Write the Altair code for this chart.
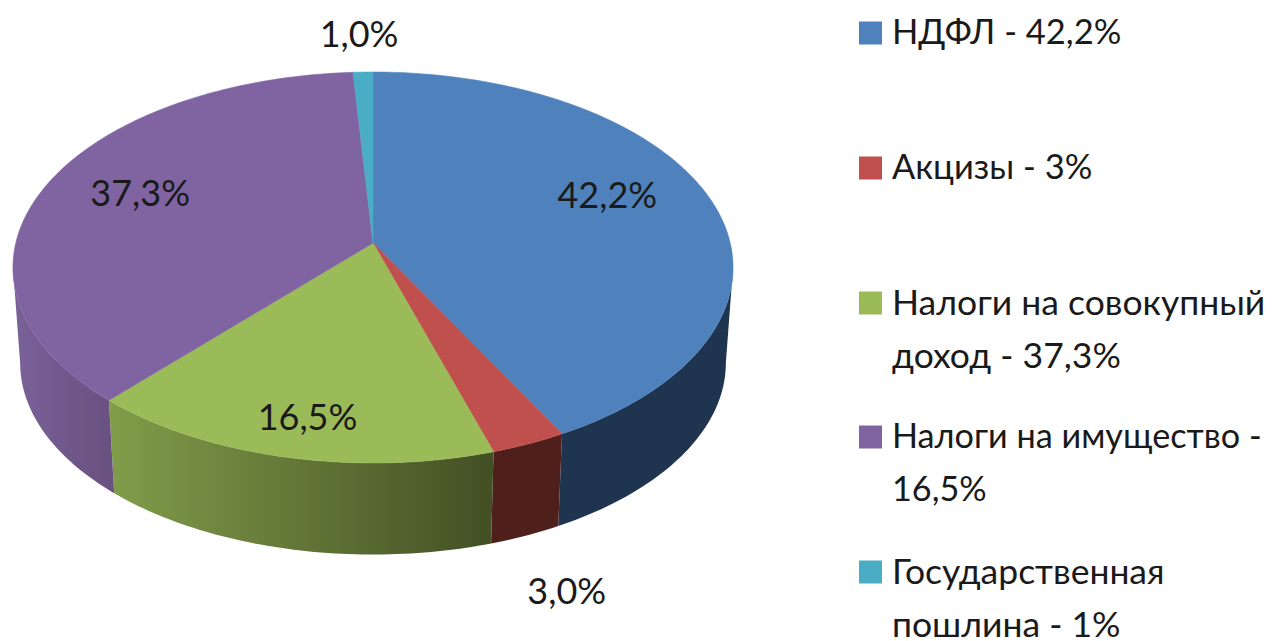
import math
import altair as alt
import pandas as pd

# Chart data
slice_names = ["НДФЛ", "Акцизы", "Налоги на имущество", "Налоги на совокупный доход", "Государственная пошлина"]
slice_values = [42.2, 3.0, 16.5, 37.3, 1.0]
slice_labels = ["42,2%", "3,0%", "16,5%", "37,3%", "1,0%"]
top_colors = ["#4f81bd", "#c0504d", "#9bbb59", "#8064a2", "#4bacc6"]
legend_texts = [
    "НДФЛ - 42,2%",
    "Акцизы - 3%",
    "Налоги на совокупный\nдоход - 37,3%",
    "Налоги на имущество -\n16,5%",
    "Государственная\nпошлина - 1%",
]

# Layout (page pixels)
W, H = 1260, 632
PAGE = 8
CX, CY = 373, 243
A, B, K = 192.4, 357.2, 0.1253     # perspective of the disc
DEPTH, SHRINK = 96 / 192.4, 0.98
FONT = "Lato"
FS = 36
LEGEND_FS = [34.5, 34.5, 35.5, 34.2, 35.5]
LABEL_OFFSETS = [(-102, -1), (38, 149), (22, -38), (91, 13), (-4, -36)]
LEGEND_Y = [33, 168, 303, 437, 572]
LEGEND_TEXT_DY = 1
LINE_H = 53


def project(theta_deg, r=1.0):
    t = math.radians(theta_deg)
    u, v = r * math.cos(t), r * math.sin(t)
    d = 1 + K * u
    return v / d, u / d


def side_fill(i):
    grads = {
        0: ("#1f344f", "#1f344f"),
        1: ("#4f1f1c", "#4f1f1c"),
        2: ("#819d4a", "#434f24"),
        3: ("#7a6199", "#68507f"),
    }
    c0, c1 = grads[i]
    return alt.LinearGradient(
        gradient="linear", x1=0, x2=1, y1=0, y2=0,
        stops=[alt.GradientStop(color=c0, offset=0), alt.GradientStop(color=c1, offset=1)],
    )


x_scale = alt.Scale(domain=[(PAGE - CX) / B, (PAGE + W - CX) / B], nice=False, zero=False)
y_scale = alt.Scale(domain=[(CY - PAGE - H) / A, (CY - PAGE) / A], nice=False, zero=False)


def enc(ch):
    return ch.encode(
        x=alt.X("x:Q", scale=x_scale, axis=None),
        y=alt.Y("y:Q", scale=y_scale, axis=None),
    )


def polygon(points, **style):
    df = pd.DataFrame([{"x": p[0], "y": p[1], "o": n} for n, p in enumerate(points)])
    return enc(alt.Chart(df).mark_line(interpolate="linear-closed", clip=False, **style)).encode(
        order=alt.Order("o:Q")
    )


def arc(start, end):
    n = max(2, int(abs(end - start)) + 2)
    return [start + (end - start) * j / (n - 1) for j in range(n)]


total = sum(slice_values)
starts, s = [], 0.0
for v in slice_values:
    starts.append(s / total * 360)
    s += v
ends = [st + v / total * 360 for st, v in zip(starts, slice_values)]

vis0 = math.degrees(math.acos(-K))
vis1 = 360 - vis0

layers = []
for i in range(5):
    lo, hi = max(starts[i], vis0), min(ends[i], vis1)
    if hi <= lo:
        continue
    angles = arc(lo, hi)
    upper = [project(t) for t in angles]
    lower = [(x * SHRINK, y * SHRINK - DEPTH) for x, y in upper]
    layers.append(polygon(upper + lower[::-1], fill=side_fill(i), strokeWidth=0))

for i in range(5):
    pts = [(0.0, 0.0)] + [project(t) for t in arc(starts[i], ends[i])]
    layers.append(polygon(pts, fill=top_colors[i], stroke=top_colors[i], strokeWidth=0.6))

for i in range(5):
    mx, my = project((starts[i] + ends[i]) / 2)
    dx, dy = LABEL_OFFSETS[i]
    df = pd.DataFrame({"x": [mx], "y": [my], "t": [slice_labels[i]]})
    layers.append(
        enc(alt.Chart(df).mark_text(font=FONT, fontSize=FS, color="#1a1a1a", dx=dx, dy=dy, align="center", baseline="middle"))
        .encode(text="t:N")
    )

for i in range(5):
    yy = LEGEND_Y[i] - PAGE
    layers.append(
        alt.Chart(pd.DataFrame({"t": [slice_names[i]]}))
        .mark_point(shape="square", filled=True, size=529, color=top_colors[i], opacity=1)
        .encode(x=alt.value(870.5 - PAGE), y=alt.value(yy))
    )
    layers.append(
        alt.Chart(pd.DataFrame({"t": [legend_texts[i]]}))
        .mark_text(font=FONT, fontSize=LEGEND_FS[i], color="#1a1a1a", align="left", baseline="middle", lineBreak="\n", lineHeight=LINE_H)
        .encode(x=alt.value(892 - PAGE), y=alt.value(yy + LEGEND_TEXT_DY), text="t:N")
    )

chart = (
    alt.layer(*layers)
    .properties(width=W, height=H, padding=0, background="white", autosize=alt.AutoSizeParams(type="none"))
    .configure_view(stroke=None)
)
chart.save("out.html", embed_options={"renderer": "svg", "actions": False})
